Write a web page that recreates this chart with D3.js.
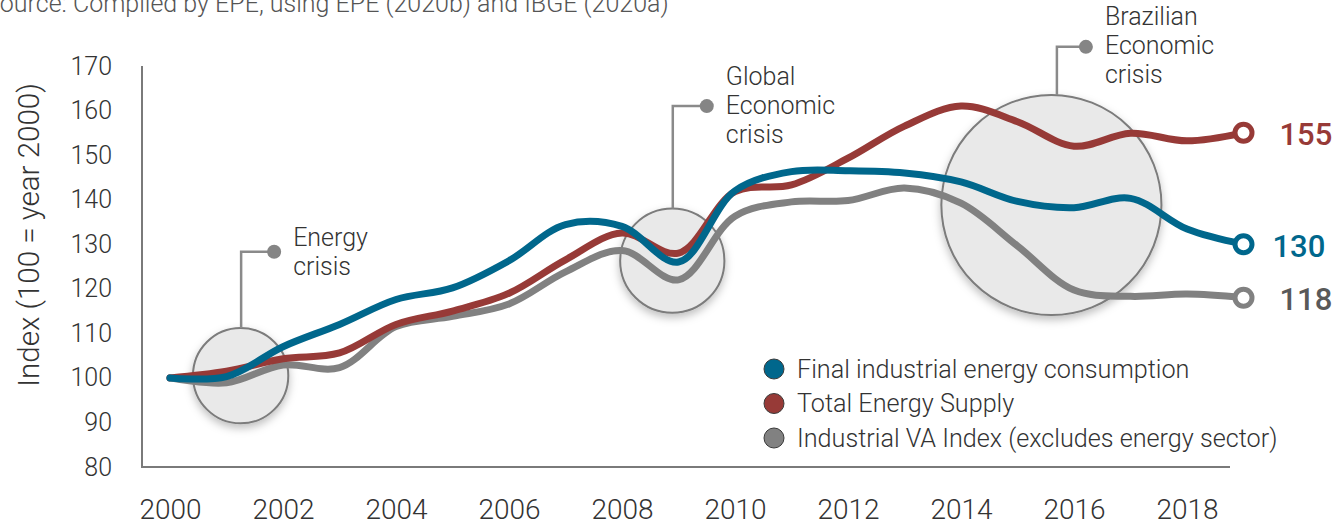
<!DOCTYPE html>
<html>
<head>
<meta charset="utf-8">
<script src="https://cdn.jsdelivr.net/npm/d3@7"></script>
<style>
  html, body { margin: 0; padding: 0; background: #fff; }
  svg { display: block; font-family: Roboto, "Noto Sans", sans-serif; }
</style>
</head>
<body>
<svg id="chart" width="1335" height="525"></svg>
<script>
// Years on the x axis
const years = d3.range(2000, 2020);

// Index values (100 = year 2000)
const finalIndustrialConsumption = [100, 100.3, 107, 112, 117.6, 120.2, 126.3, 134.4, 134, 126, 142, 146.3, 146.5, 146, 144, 139.6, 138.2, 140.3, 133.4, 130];
const totalEnergySupply = [100, 101.5, 104.3, 105.6, 112, 115, 119, 126.5, 132.5, 128, 141.8, 143.3, 149.3, 156.5, 161, 157.5, 152, 154.9, 153.2, 155];
const industrialVAIndex = [100, 98.9, 102.9, 102.3, 111.5, 113.8, 116.6, 123.8, 128.6, 122, 136.3, 139.5, 139.8, 142.6, 139.2, 129.6, 119.7, 118.3, 118.8, 118];

const yTicks = [80, 90, 100, 110, 120, 130, 140, 150, 160, 170];
const xTicks = [2000, 2002, 2004, 2006, 2008, 2010, 2012, 2014, 2016, 2018];

const seriesNames = ["Final industrial energy consumption", "Total Energy Supply", "Industrial VA Index (excludes energy sector)"];
const seriesColors = ["#00678c", "#973a37", "#818181"];
const labelColors = ["#00678c", "#973a37", "#595959"];

// Crisis highlights: year and index at the centre, radius in index units,
// index level of the connector's elbow, label lines
const crisisYears = [2001.25, 2008.89, 2015.6];
const crisisCentres = [100.5, 126.3, 138.8];
const crisisRadii = [10.7, 11.7, 24.7];
const crisisElbows = [128.3, 161, 174.3];
const crisisLabels = [["Energy", "crisis"], ["Global", "Economic", "crisis"], ["Brazilian", "Economic", "crisis"]];

const svg = d3.select("#chart");

const x = d3.scaleLinear().domain([2000, 2018]).range([170, 1187]);
const y = d3.scaleLinear().domain([80, 170]).range([467, 66]);
const pxPerUnit = y(0) - y(1);

// Drop shadow for the highlight circles
const defs = svg.append("defs");
const f = defs.append("filter").attr("id", "shadow").attr("x", "-30%").attr("y", "-30%").attr("width", "160%").attr("height", "160%");
f.append("feDropShadow").attr("dx", 0).attr("dy", 4).attr("stdDeviation", 4)
  .attr("flood-color", "#000").attr("flood-opacity", 0.25);

// Source line
svg.append("text")
  .attr("x", -15).attr("y", 12)
  .attr("font-size", 25).attr("font-weight", 300).attr("fill", "#555")
  .text("Source: Compiled by EPE, using EPE (2020b) and IBGE (2020a)");

// Axis frame
svg.append("line").attr("x1", 142).attr("x2", 142).attr("y1", y(170)).attr("y2", y(80))
  .attr("stroke", "#7a7a7a").attr("stroke-width", 2);
svg.append("line").attr("x1", 141).attr("x2", 1230).attr("y1", y(80)).attr("y2", y(80))
  .attr("stroke", "#7a7a7a").attr("stroke-width", 2);

// Y axis labels
const yAxis = svg.append("g").attr("transform", "translate(142,0)")
  .call(d3.axisLeft(y).tickValues(yTicks).tickSize(0).tickPadding(30));
yAxis.select(".domain").remove();
yAxis.selectAll("text").attr("font-size", 25).attr("font-weight", 300).attr("fill", "#333")
  .attr("font-family", "Roboto, sans-serif");

// X axis labels
const xAxis = svg.append("g").attr("transform", `translate(0,${y(80)})`)
  .call(d3.axisBottom(x).tickValues(xTicks).tickFormat(d3.format("d")).tickSize(0).tickPadding(32));
xAxis.select(".domain").remove();
xAxis.selectAll("text").attr("font-size", 28).attr("font-weight", 300).attr("fill", "#333")
  .attr("font-family", "Roboto, sans-serif");

// Y axis title
svg.append("text")
  .attr("transform", `translate(39,235) rotate(-90)`)
  .attr("text-anchor", "middle")
  .attr("font-size", 29.5).attr("font-weight", 300).attr("fill", "#333")
  .text("Index (100 = year 2000)");

// Crisis circles with connectors and labels
const dotOffsets = [33, 34, 29];
const stemOffsets = [0.5, 0.5, 5.5];
crisisYears.forEach((yr, i) => {
  const cx = x(yr), cy = y(crisisCentres[i]), r = crisisRadii[i] * pxPerUnit;
  svg.append("circle").attr("cx", cx).attr("cy", cy).attr("r", r)
    .attr("fill", "#e9e9e9").attr("stroke", "#7b7b7b").attr("stroke-width", 2)
    .attr("filter", "url(#shadow)");
  const elbowY = y(crisisElbows[i]);
  const stemX = cx + stemOffsets[i];
  const dotX = stemX + dotOffsets[i];
  const dx = stemX - cx;
  svg.append("path")
    .attr("d", `M${stemX},${cy - Math.sqrt(r * r - dx * dx)} V${elbowY} H${dotX}`)
    .attr("fill", "none").attr("stroke", "#8a8a8a").attr("stroke-width", 2.5);
  svg.append("circle").attr("cx", dotX).attr("cy", elbowY).attr("r", 7).attr("fill", "#858585");
  const tx = dotX + 19;
  const t = svg.append("text").attr("x", tx)
    .attr("font-size", 25).attr("font-weight", 300).attr("fill", "#333");
  const firstY = i === 0 ? elbowY - 12 : elbowY - 28;
  crisisLabels[i].forEach((s, k) => {
    t.append("tspan").attr("x", tx).attr("y", firstY + k * 29)
      .attr("dominant-baseline", "middle").text(s);
  });
});

// Series lines
const allSeries = [finalIndustrialConsumption, totalEnergySupply, industrialVAIndex];
const line = d3.line().x((d, i) => x(years[i])).y(d => y(d)).curve(d3.curveCatmullRom.alpha(0.5));
const drawOrder = [2, 1, 0];
drawOrder.forEach(s => {
  svg.append("path").datum(allSeries[s]).attr("d", line)
    .attr("fill", "none").attr("stroke", seriesColors[s]).attr("stroke-width", 7)
    .attr("stroke-linecap", "round").attr("stroke-linejoin", "round");
});

// End markers and value labels
const labelDx = [29, 36, 36];
allSeries.forEach((vals, s) => {
  const last = vals[vals.length - 1];
  const ex = x(years[years.length - 1]), ey = y(last);
  svg.append("circle").attr("cx", ex).attr("cy", ey).attr("r", 8.5)
    .attr("fill", "#fff").attr("stroke", seriesColors[s]).attr("stroke-width", 5);
  svg.append("text").attr("x", ex + labelDx[s]).attr("y", ey + 2)
    .attr("dominant-baseline", "central")
    .attr("font-size", 31).attr("font-weight", 500).attr("fill", labelColors[s])
    .text(d3.format("d")(last));
});

// Legend
const legend = svg.append("g").attr("transform", "translate(774,369)");
seriesNames.forEach((name, i) => {
  const g = legend.append("g").attr("transform", `translate(0,${i * 34.5})`);
  g.append("circle").attr("r", 10).attr("fill", seriesColors[i]).attr("stroke", "#3a3a3a").attr("stroke-width", 1);
  g.append("text").attr("x", 23).attr("dominant-baseline", "central")
    .attr("font-size", 25.2).attr("font-weight", 300).attr("fill", "#333").text(name);
});
</script>
</body>
</html>
